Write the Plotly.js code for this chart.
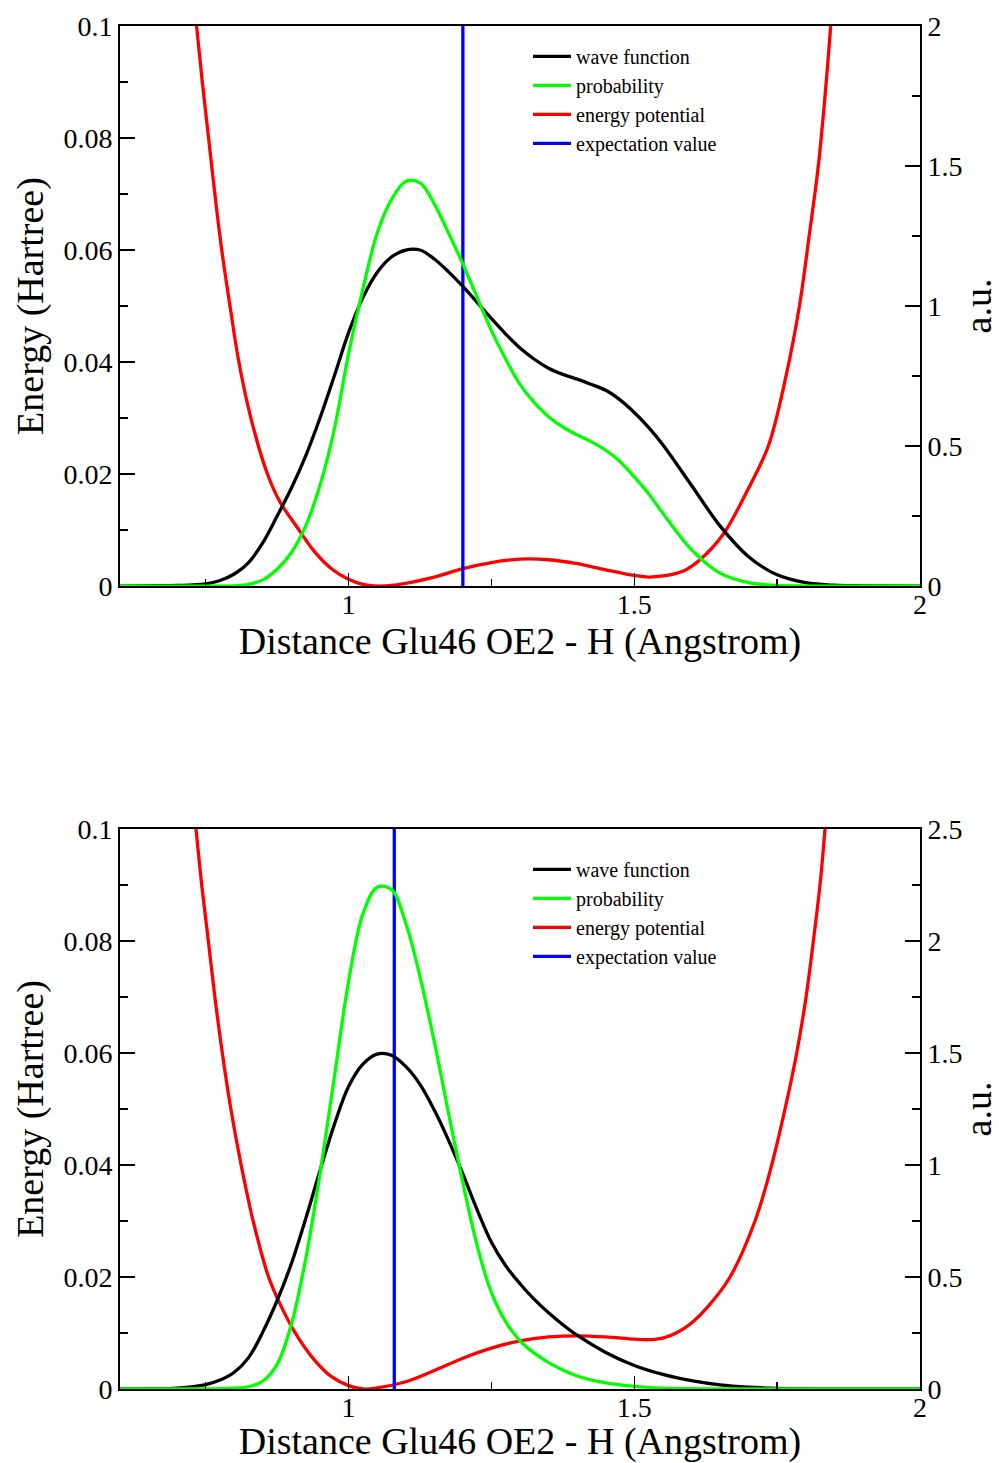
<!DOCTYPE html>
<html>
<head>
<meta charset="utf-8">
<script src="https://cdn.plot.ly/plotly-3.0.1.min.js"></script>
<style>html,body{margin:0;padding:0;background:#fff;}#chart{width:999px;height:1463px;}</style>
</head>
<body>
<div id="chart"></div>
<script>
// ---------- Data ----------
// Top panel: wave function / probability (a.u., right axis)
const xTop = [0.6, 0.65, 0.7, 0.75, 0.775, 0.8, 0.825, 0.85, 0.875, 0.9, 0.925, 0.95, 0.975, 1.0, 1.025, 1.05, 1.075, 1.1, 1.125, 1.15, 1.175, 1.2, 1.25, 1.275, 1.3, 1.325, 1.35, 1.375, 1.4, 1.425, 1.45, 1.475, 1.5, 1.525, 1.55, 1.6, 1.65, 1.7, 1.75, 1.8, 1.85, 1.9, 2.0];
const waveTop = [0, 0.001, 0.002, 0.008, 0.02, 0.043, 0.084, 0.155, 0.25, 0.35, 0.465, 0.6, 0.75, 0.905, 1.03, 1.12, 1.175, 1.2, 1.2, 1.168, 1.122, 1.07, 0.955, 0.9, 0.85, 0.81, 0.778, 0.756, 0.739, 0.72, 0.699, 0.665, 0.62, 0.567, 0.505, 0.36, 0.215, 0.105, 0.04, 0.012, 0.003, 0.001, 0];
const probTop = [0, 0, 0, 0, 0, 0.001, 0.006, 0.022, 0.06, 0.12, 0.215, 0.36, 0.56, 0.83, 1.06, 1.26, 1.38, 1.445, 1.44, 1.365, 1.26, 1.15, 0.912, 0.81, 0.72, 0.655, 0.605, 0.568, 0.54, 0.515, 0.485, 0.445, 0.39, 0.33, 0.26, 0.13, 0.046, 0.012, 0.002, 0, 0, 0, 0];
// Top panel: energy potential (Hartree, left axis)
const xPotTop = [0.734, 0.744, 0.755, 0.766, 0.778, 0.7925, 0.808, 0.829, 0.858, 0.88, 0.91, 0.94, 0.97, 1.0, 1.025, 1.05, 1.075, 1.1, 1.15, 1.2, 1.25, 1.3, 1.35, 1.4, 1.45, 1.5, 1.525, 1.55, 1.586, 1.615, 1.656, 1.695, 1.7346, 1.7655, 1.789, 1.806, 1.822, 1.8338, 1.8437];
const potTop = [0.1, 0.09, 0.08, 0.07, 0.06, 0.05, 0.04, 0.03, 0.02, 0.015, 0.0105, 0.0062, 0.0031, 0.0012, 0.0003, 0.0, 0.0001, 0.0005, 0.0016, 0.0031, 0.0042, 0.0048, 0.0047, 0.004, 0.0029, 0.0019, 0.0016, 0.0018, 0.0027, 0.0047, 0.0093, 0.0165, 0.025, 0.0375, 0.05, 0.0625, 0.075, 0.0875, 0.1];
const expectTop = 1.2;

// Bottom panel: wave function / probability (a.u., right axis)
const xBot = [0.6, 0.65, 0.7, 0.75, 0.775, 0.8, 0.825, 0.85, 0.875, 0.9, 0.925, 0.95, 0.975, 1.0, 1.025, 1.05, 1.075, 1.1, 1.125, 1.15, 1.175, 1.2, 1.225, 1.25, 1.275, 1.3, 1.325, 1.35, 1.375, 1.4, 1.45, 1.5, 1.55, 1.6, 1.65, 1.7, 1.75, 1.8, 1.85, 2.0];
const waveBot = [0, 0.001, 0.004, 0.02, 0.04, 0.075, 0.14, 0.255, 0.395, 0.56, 0.76, 0.975, 1.18, 1.35, 1.45, 1.495, 1.49, 1.44, 1.36, 1.245, 1.11, 0.96, 0.8, 0.655, 0.55, 0.47, 0.4, 0.34, 0.287, 0.24, 0.163, 0.105, 0.065, 0.037, 0.018, 0.008, 0.003, 0.001, 0, 0];
const probBot = [0, 0, 0, 0, 0.001, 0.004, 0.01, 0.035, 0.11, 0.29, 0.58, 0.96, 1.39, 1.82, 2.12, 2.24, 2.23, 2.08, 1.84, 1.55, 1.23, 0.92, 0.64, 0.43, 0.3, 0.215, 0.16, 0.118, 0.085, 0.058, 0.027, 0.012, 0.004, 0.001, 0, 0, 0, 0, 0, 0];
// Bottom panel: energy potential (Hartree, left axis)
const xPotBot = [0.733, 0.743, 0.7546, 0.766, 0.779, 0.794, 0.812, 0.833, 0.86, 0.88, 0.905, 0.94, 0.97, 1.0, 1.025, 1.05, 1.1, 1.15, 1.2, 1.25, 1.3, 1.35, 1.4, 1.45, 1.5, 1.525, 1.55, 1.575, 1.6, 1.6296, 1.6675, 1.7113, 1.7405, 1.7638, 1.7842, 1.8006, 1.8134, 1.825, 1.8338];
const potBot = [0.1, 0.09, 0.08, 0.07, 0.06, 0.05, 0.04, 0.03, 0.02, 0.0152, 0.0103, 0.0052, 0.0022, 0.0006, 0.0, 0.0002, 0.0013, 0.0033, 0.0055, 0.0073, 0.0086, 0.0093, 0.0095, 0.0093, 0.0089, 0.0088, 0.0091, 0.0101, 0.0118, 0.0148, 0.02, 0.03, 0.04, 0.05, 0.06, 0.07, 0.08, 0.09, 0.1];
const expectBot = 1.08;

const names = ["wave function", "probability", "energy potential", "expectation value"];
const colors = ["#000000", "#00ff00", "#ff0000", "#0000ff"];
const xTitle = "Distance Glu46 OE2 - H (Angstrom)";
const yLeftTitle = "Energy (Hartree)";
const yRightTitle = "a.u.";

// ---------- Traces ----------
function panel(xw, wave, prob, xp, pot, ex, xa, yl, yr, leg) {
  const lw = 3.3;
  return [
    {x: xw, y: wave, xaxis: xa, yaxis: yr, name: names[0], legend: leg, legendgroup: leg + "a",
     mode: "lines", line: {color: colors[0], width: lw, shape: "spline", smoothing: 1}},
    {x: xw, y: prob, xaxis: xa, yaxis: yr, name: names[1], legend: leg, legendgroup: leg + "a",
     mode: "lines", line: {color: colors[1], width: lw, shape: "spline", smoothing: 1}},
    {x: xp, y: pot, xaxis: xa, yaxis: yl, name: names[2], legend: leg, legendgroup: leg + "b",
     mode: "lines", line: {color: colors[2], width: lw, shape: "spline", smoothing: 1}},
    {x: [ex, ex], y: [0, 0.1], xaxis: xa, yaxis: yl, name: names[3], legend: leg, legendgroup: leg + "c",
     mode: "lines", line: {color: colors[3], width: lw}}
  ];
}
const data = [].concat(
  panel(xTop, waveTop, probTop, xPotTop, potTop, expectTop, "x", "y", "y2", "legend"),
  panel(xBot, waveBot, probBot, xPotBot, potBot, expectBot, "x2", "y3", "y4", "legend2")
);

// ---------- Layout ----------
const FONT = "Liberation Serif, Times New Roman, serif";
const tickFont = {family: FONT, size: 28, color: "#000"};
const titleFont = {family: FONT, size: 38, color: "#000"};
function xAx(anchor) {
  return {anchor: anchor, domain: [0, 1], range: [0.6, 2], tick0: 0, dtick: 0.5,
    ticks: "inside", ticklen: 13, tickwidth: 1.5, tickcolor: "#000", ticklabelstandoff: -8,
    minor: {ticks: "inside", dtick: 0.25, tick0: 0, ticklen: 7, tickwidth: 1.5, tickcolor: "#000", showgrid: false},
    showline: true, linewidth: 2, linecolor: "#000", mirror: true,
    showgrid: false, zeroline: false, tickfont: tickFont,
    title: {text: xTitle, font: titleFont, standoff: 0}, automargin: false};
}
function yLeft(anchor, domain) {
  return {anchor: anchor, domain: domain, range: [0, 0.1], tick0: 0, dtick: 0.02,
    ticks: "inside", ticklen: 15, tickwidth: 1.5, tickcolor: "#000",
    minor: {ticks: "inside", dtick: 0.01, tick0: 0, ticklen: 8, tickwidth: 1.5, tickcolor: "#000", showgrid: false},
    showline: true, linewidth: 2, linecolor: "#000",
    showgrid: false, zeroline: false, tickfont: tickFont,
    title: {text: yLeftTitle, font: titleFont, standoff: 8}, automargin: false};
}
function yRight(anchor, over, top) {
  return {anchor: anchor, overlaying: over, side: "right", range: [0, top], tick0: 0, dtick: 0.5,
    ticks: "inside", ticklen: 15, tickwidth: 1.5, tickcolor: "#000",
    minor: {ticks: "inside", dtick: 0.25, tick0: 0, ticklen: 8, tickwidth: 1.5, tickcolor: "#000", showgrid: false},
    showline: true, linewidth: 2, linecolor: "#000",
    showgrid: false, zeroline: false, tickfont: tickFont,
    title: {text: yRightTitle, font: titleFont, standoff: 4}, automargin: false};
}
const legendBase = {xanchor: "left", yanchor: "top", bgcolor: "rgba(0,0,0,0)", borderwidth: 0,
  font: {family: FONT, size: 20, color: "#000"}, traceorder: "grouped", tracegroupgap: 0, itemwidth: 38};

const layout = {
  width: 999, height: 1463,
  margin: {l: 120, r: 79, t: 26, b: 74, pad: 0},
  paper_bgcolor: "#fff", plot_bgcolor: "#fff",
  font: {family: FONT, color: "#000"},
  showlegend: true,
  xaxis: xAx("y"),
  yaxis: yLeft("x", [0.5891, 1]),
  yaxis2: yRight("x", "y", 2),
  xaxis2: xAx("y3"),
  yaxis3: yLeft("x2", [0, 0.4109]),
  yaxis4: yRight("x2", "y3", 2.5),
  legend: Object.assign({}, legendBase, {x: 0.51, y: 0.992}),
  legend2: Object.assign({}, legendBase, {x: 0.51, y: 0.3955})
};

Plotly.newPlot("chart", data, layout, {displayModeBar: false, staticPlot: true});
</script>
</body>
</html>
